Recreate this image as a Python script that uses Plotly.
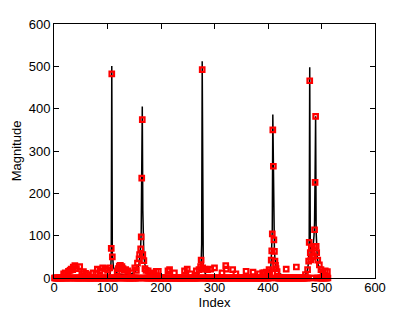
import plotly.graph_objects as go

# ---- data ----
n_points = 512

# black line: original spectrum (key points, magnitude)
line_idx = [1, 60, 95, 102, 105, 106, 107, 108, 109, 110, 111, 113, 116, 120, 125, 132, 140, 146, 150, 154,
            157, 159, 161, 162, 163, 164, 165, 166, 167, 168, 170, 173, 178, 185, 195, 215, 250, 265, 270,
            273, 275, 276, 277, 278, 279, 281, 284, 290, 300, 330, 380, 395, 400, 403, 405, 406, 407, 408,
            409, 410, 411, 412, 413, 415, 418, 422, 428, 440, 460, 468, 472, 474, 475, 476, 477, 478, 479,
            480, 481, 482, 483, 484, 485, 486, 487, 488, 489, 490, 491, 492, 494, 497, 502, 508, 512]
line_val = [0, 0, 2, 5, 10, 20, 55, 501, 60, 35, 26, 20, 14, 10, 8, 7, 8, 10, 13, 18,
            25, 35, 55, 75, 110, 250, 405, 160, 80, 50, 32, 20, 12, 7, 4, 2, 2, 4, 8,
            18, 35, 80, 512, 70, 30, 15, 8, 4, 2, 1, 2, 5, 9, 15, 25, 40, 70, 115,
            386, 280, 100, 65, 45, 28, 17, 10, 6, 3, 3, 6, 12, 20, 30, 45, 90, 498, 90,
            55, 48, 52, 60, 70, 85, 100, 130, 240, 382, 110, 70, 50, 32, 20, 10, 5, 2]

# red squares: estimate at each index 1..512 (zero unless listed)
est_idx = [18, 21, 25, 27, 30, 32, 35, 36, 39, 42, 48, 52, 55, 59, 63, 73, 78, 81, 86, 91,
           96, 100, 104, 107, 108, 109, 118, 120, 122, 124, 125, 127, 129, 131, 134, 138, 145, 151, 154,
           156, 159, 160, 162, 163, 164, 165, 166, 168, 170, 172, 176, 179, 185, 191, 195, 213, 216, 225,
           244, 249, 255, 266, 271, 274, 275, 277, 278, 282, 287, 293, 300, 314, 321, 322, 334, 340, 359,
           372, 384, 390, 393, 397, 402, 403, 406, 407, 408, 409, 410, 411, 412, 413, 414, 415, 417, 434,
           453, 470, 474, 476, 477, 478, 479, 480, 481, 483, 485, 486, 487, 488, 489, 490, 491, 493, 496,
           499, 503, 507, 511]
est_val = [10, 12, 8, 16, 18, 21, 20, 26, 29, 22, 27, 10, 15, 11, 8, 12, 10, 21, 17, 24,
           22, 18, 24, 70, 482, 50, 15, 22, 28, 30, 25, 27, 22, 18, 20, 17, 12, 24, 18,
           35, 45, 55, 69, 97, 236, 374, 55, 41, 22, 18, 17, 12, 10, 16, 16, 17, 20, 12,
           17, 21, 10, 17, 20, 27, 42, 492, 24, 21, 20, 21, 24, 12, 29, 21, 20, 10, 16,
           14, 10, 12, 12, 14, 20, 15, 42, 64, 104, 350, 264, 90, 63, 40, 30, 22, 15, 21,
           26, 8, 20, 40, 84, 466, 60, 43, 70, 50, 53, 75, 114, 226, 382, 75, 60, 42, 31,
           20, 15, 17, 15]

# ---- build marker series ----
marker_x = list(range(1, n_points + 1))
lookup = dict(zip(est_idx, est_val))
marker_y = [lookup.get(i, 0) for i in marker_x]

fig = go.Figure()
fig.add_trace(go.Scatter(x=line_idx, y=line_val, mode="lines",
                         line=dict(color="black", width=1.5), showlegend=False))
fig.add_trace(go.Scatter(x=marker_x, y=marker_y, mode="markers",
                         marker=dict(symbol="square-open", size=4.5, color="#ff0000",
                                     line=dict(color="#ff0000", width=2.2)),
                         showlegend=False, cliponaxis=False))

font = dict(family="Liberation Sans, Arial", size=13, color="black")
axis_common = dict(showgrid=False, zeroline=False, ticks="inside", ticklen=5,
                   tickcolor="black", linecolor="black", linewidth=1, mirror="allticks",
                   showline=True, automargin=False, tickfont=font)

fig.update_layout(
    width=415, height=312,
    margin=dict(l=54, r=40, t=24, b=34),
    paper_bgcolor="white", plot_bgcolor="white",
    xaxis=dict(range=[0, 600], tickvals=[0, 100, 200, 300, 400, 500, 600],
               ticklabelstandoff=-3,
               title=dict(text="Index", standoff=0, font=font),
               **axis_common),
    yaxis=dict(range=[0, 600], tickvals=[0, 100, 200, 300, 400, 500, 600],
               title=dict(text="Magnitude", standoff=4, font=font),
               **axis_common),
)

fig.write_html("out.html", config={"displayModeBar": False},
               post_script="document.body.style.margin='0px';")
